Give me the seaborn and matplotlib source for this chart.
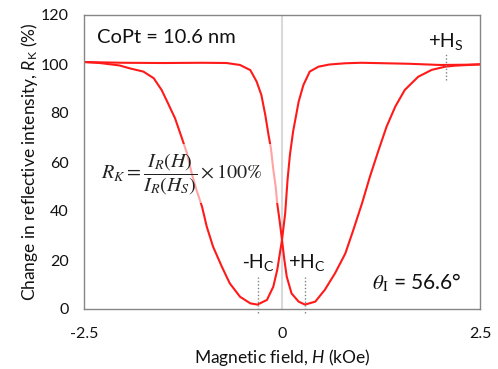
import numpy as np
import pandas as pd
import matplotlib
matplotlib.use("Agg")
import matplotlib.pyplot as plt
from matplotlib.patches import Rectangle
import seaborn as sns

# loop branch with the broad dip on the negative side
H_a = [-2.5, -2.3, -2.05, -1.92, -1.75, -1.62, -1.52, -1.44, -1.35, -1.27,
       -1.2, -1.14, -1.08, -1.01, -0.95, -0.87, -0.76, -0.66, -0.53, -0.4,
       -0.31, -0.19, -0.11, -0.06, 0.0, 0.04, 0.07, 0.1, 0.14, 0.21, 0.27,
       0.35, 0.46, 0.6, 0.8, 1.0, 1.3, 1.6, 2.0, 2.3, 2.5]
R_a = [100.8, 100.4, 99.4, 98.2, 96.9, 94.2, 89.4, 84.0, 77.8, 70.3,
       63.6, 55.4, 48.6, 41.8, 33.6, 25.4, 17.3, 10.5, 5.0, 2.3,
       1.8, 3.7, 9.1, 16.0, 28.2, 39.0, 52.7, 62.9, 72.4, 84.6, 91.4,
       96.9, 98.9, 99.8, 100.3, 100.5, 100.3, 100.1, 99.6, 99.7, 99.8]

# loop branch with the broad dip on the positive side
H_b = [-2.5, -2.0, -1.5, -1.0, -0.7, -0.53, -0.4, -0.32, -0.26, -0.21, -0.17,
       -0.14, -0.11, -0.08, -0.06, -0.03, 0.0, 0.03, 0.06, 0.12, 0.21, 0.29,
       0.42, 0.54, 0.67, 0.8, 0.9, 1.01, 1.11, 1.22, 1.32, 1.43, 1.55, 1.72,
       1.89, 2.06, 2.18, 2.35, 2.5]
R_b = [100.8, 100.5, 100.4, 100.5, 100.4, 99.6, 97.5, 92.8, 87.3, 79.0, 71.0,
       65.6, 57.0, 50.0, 43.0, 36.0, 28.2, 20.0, 13.2, 6.4, 3.0, 1.8,
       3.0, 7.8, 14.6, 22.7, 32.2, 43.1, 54.0, 64.9, 74.4, 82.6, 89.4, 94.8,
       97.6, 98.9, 99.3, 99.6, 99.9]

Hc_neg = -0.3
Hc_pos = 0.29
Hs = 2.07

sns.set_theme(style="white")
plt.rcParams["font.family"] = ["Lato", "DejaVu Sans"]
plt.rcParams["mathtext.fontset"] = "custom"
plt.rcParams["mathtext.rm"] = "Lato"
plt.rcParams["mathtext.it"] = "Lato:italic"
plt.rcParams["mathtext.bf"] = "Lato:bold"

df_a = pd.DataFrame({"H": H_a, "R": R_a})
df_b = pd.DataFrame({"H": H_b, "R": R_b})

fig = plt.figure(figsize=(4.98, 3.69), dpi=100)
ax = fig.add_axes([84/498, 1-309/369, 396/498, 294/369])

ax.axvline(0, color="#d9d9d9", lw=1.5, zorder=1)
sns.lineplot(data=df_a, x="H", y="R", color="#ff1a1a", lw=1.5, estimator=None, ax=ax, zorder=2)
sns.lineplot(data=df_b, x="H", y="R", color="#ff1a1a", lw=1.5, estimator=None, ax=ax, zorder=2)

# dotted markers for Hc and Hs
ax.vlines([Hc_neg, Hc_pos], -1.8, 13, colors="#808080", linestyles=(0, (1, 1.5)), lw=1, clip_on=False)
ax.vlines([Hs], 93.5, 104, colors="#808080", linestyles=(0, (1, 1.5)), lw=1)

# translucent box behind the formula
ax.add_patch(Rectangle((-2.45, 43.3), 2.43, 24.2, facecolor="white", alpha=0.6,
                       edgecolor="none", zorder=3))
ax.text(-2.28, 55, r"$R_K = \dfrac{I_R(H)}{I_R(H_S)} \times 100\%$", fontsize=14.5,
        math_fontfamily="stix", va="center", ha="left", zorder=4, color="#222222")

ax.text(-2.34, 111, "CoPt = 10.6 nm", fontsize=14.5, va="center", ha="left", color="#111111")
ax.text(1.14, 10.6, r"$\theta_\mathrm{I}$ = 56.6°", fontsize=15, va="center", ha="left",
        math_fontfamily="stix", color="#111111")

ax.text(Hs, 109, r"+H$_\mathrm{S}$", fontsize=14.5, family="Liberation Sans", ha="center", va="center", color="#111111")
ax.text(Hc_neg, 18.8, r"-H$_\mathrm{C}$", fontsize=14.5, family="Liberation Sans", ha="center", va="center", color="#111111")
ax.text(Hc_pos + 0.02, 18.8, r"+H$_\mathrm{C}$", fontsize=14.5, family="Liberation Sans", ha="center", va="center", color="#111111")

ax.set_xlim(-2.5, 2.5)
ax.set_ylim(0, 120)
ax.set_xticks([-2.5, 0, 2.5])
ax.set_xticklabels(["-2.5", "0", "2.5"])
ax.set_yticks(np.arange(0, 121, 20))

for s in ax.spines.values():
    s.set_color("#868686")
    s.set_linewidth(1)

ax.tick_params(axis="both", which="both", direction="out", length=4, width=1,
               color="#868686", labelsize=11.5, labelcolor="#111111")
ax.tick_params(axis="y", pad=7)
ax.tick_params(axis="x", pad=9)

ax.set_xlabel(r"Magnetic field, $H$ (kOe)", fontsize=12.5, color="#111111")
ax.set_ylabel(r"Change in reflective intensity, $R_\mathrm{K}$ (%)", fontsize=12.5, color="#111111")
ax.xaxis.set_label_coords(0.5, -0.13)
ax.yaxis.set_label_coords(-0.112, 0.5)

fig.savefig("out.png", dpi=100)
